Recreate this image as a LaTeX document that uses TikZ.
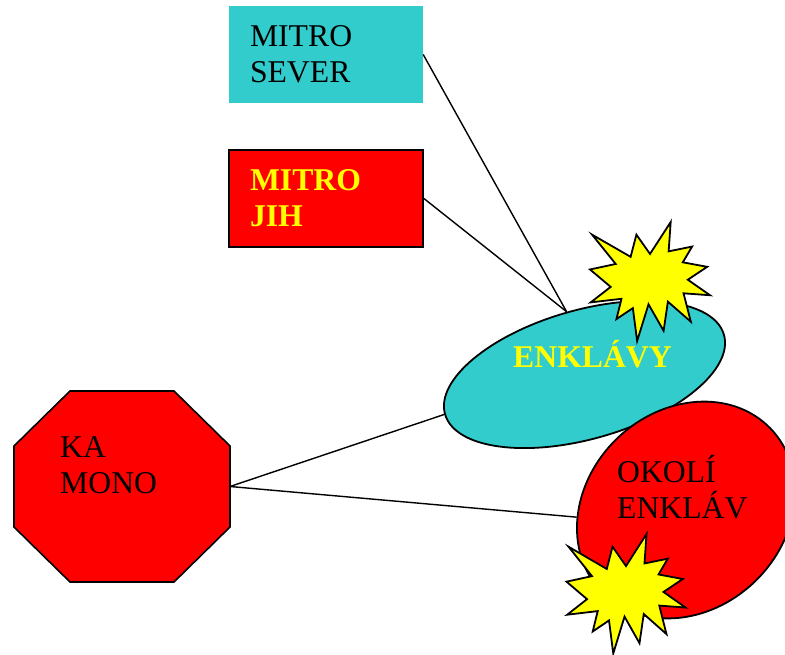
\documentclass[tikz,border=0pt]{standalone}
\usepackage{fontspec}
\setmainfont{Liberation Serif}
\usepackage{tikz}
\usetikzlibrary{shapes.geometric}
\usetikzlibrary{positioning}
\usepackage{xcolor}
\definecolor{tyrkys}{RGB}{51,204,204}
\definecolor{zluta}{RGB}{255,255,0}
\definecolor{cervena}{RGB}{255,0,0}

\begin{document}
\begin{tikzpicture}[x=1pt,y=-1pt,
  big/.style={font=\fontsize{31.7}{36}\selectfont},
  bold/.style={font=\fontsize{31.7}{36}\selectfont\bfseries},
  box/.style={minimum width=194pt,minimum height=97pt,text width=152pt,inner xsep=21pt,inner ysep=0pt,align=left},
  oval/.style={ellipse,draw=black,line width=1.8pt,inner sep=0pt},
  burst/.style={fill=zluta,draw=black,line width=1.8pt},
  link/.style={draw=black,line width=1.4pt}]
\useasboundingbox (0,0) rectangle (785,654);
% boxes
\node[box,big,fill=tyrkys] (sever) at (326,54.5) {MITRO\\SEVER};
\node[box,bold,fill=cervena,draw=black,line width=1.8pt,text=zluta] (jih) at (326,198.5) {MITRO\\JIH};
% octagon
\filldraw[fill=cervena,line width=1.6pt] (70,391) -- (174,391) -- (230,446) -- (230,527) -- (174,582) -- (70,582) -- (14,527) -- (14,446) -- cycle;
\coordinate (kamonoE) at (230,486.5);
\node[big,anchor=base west,align=left,inner sep=0pt] (kamono) at (60,493.5) {KA\\MONO};
% enklavy
\node[oval,fill=tyrkys,minimum width=290pt,minimum height=128.8pt,rotate=15.9] (enkl) at (584.5,374.5) {};
\node[bold,text=zluta,anchor=base,inner sep=0pt] (enkltext) at (592.5,367.5) {ENKLÁVY};
\begin{scope}[shift={(590,222)},x=0.5556pt,y=-0.551pt]
\filldraw[burst] (108,58) -- (145.22,0) -- (141.55,53.25) -- (183.8,44.57) -- (167.02,73.15) -- (210.97,81.37) -- (176.07,104.75) -- (216,132.9) -- (168.37,129.42) -- (181.45,180.95) -- (140.2,144.57) -- (132.47,197.37) -- (105.32,149.35) -- (84.85,216) -- (77.15,156.27) -- (47.62,176.17) -- (56.67,139.37) -- (1.35,145.87) -- (37.22,117.75) -- (0,86.15) -- (46.27,76.17) -- (3.7,22.95) -- (73.12,63.2) -- (83.52,22.95) -- cycle;
\end{scope}
% okoli
\node[oval,fill=cervena,minimum width=234.8pt,minimum height=198.6pt,rotate=44] (okoli) at (686,510) {};
\node[big,anchor=base west,align=left,inner sep=0pt] (okolitext) at (617,518) {OKOLÍ\\ENKLÁV};
\begin{scope}[shift={(566.5,534)},x=0.551pt,y=-0.5532pt]
\filldraw[burst] (108,58) -- (145.22,0) -- (141.55,53.25) -- (183.8,44.57) -- (167.02,73.15) -- (210.97,81.37) -- (176.07,104.75) -- (216,132.9) -- (168.37,129.42) -- (181.45,180.95) -- (140.2,144.57) -- (132.47,197.37) -- (105.32,149.35) -- (84.85,216) -- (77.15,156.27) -- (47.62,176.17) -- (56.67,139.37) -- (1.35,145.87) -- (37.22,117.75) -- (0,86.15) -- (46.27,76.17) -- (3.7,22.95) -- (73.12,63.2) -- (83.52,22.95) -- cycle;
\end{scope}
% links
\draw[link] (sever.east) -- (enkl.north);
\draw[link] (jih.east) -- (enkl.north);
\draw[link] (kamonoE) -- (enkl.west);
\draw[link] (kamonoE) -- (okoli.north west);
\end{tikzpicture}
\end{document}
